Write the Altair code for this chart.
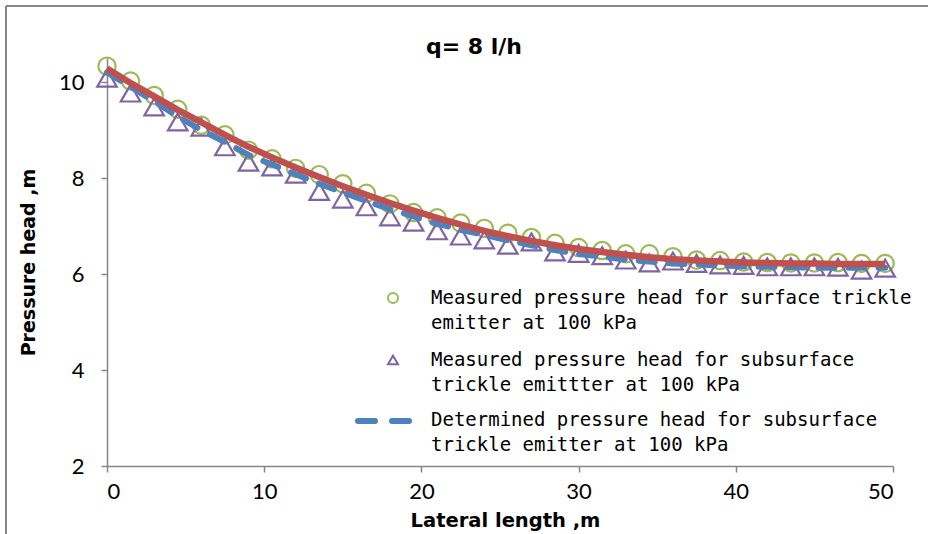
import altair as alt
import pandas as pd

# ---- data ----
lateral_m = [0, 1.5, 3, 4.5, 6, 7.5, 9, 10.5, 12, 13.5, 15, 16.5, 18, 19.5, 21, 22.5,
             24, 25.5, 27, 28.5, 30, 31.5, 33, 34.5, 36, 37.5, 39, 40.5, 42, 43.5,
             45, 46.5, 48, 49.5]
surface_measured = [10.33, 10.02, 9.72, 9.43, 9.10, 8.90, 8.58, 8.40, 8.20, 8.07, 7.88,
                    7.68, 7.46, 7.28, 7.17, 7.06, 6.95, 6.85, 6.76, 6.64, 6.55, 6.49,
                    6.42, 6.42, 6.36, 6.29, 6.28, 6.25, 6.24, 6.23, 6.23, 6.24, 6.22, 6.22]
subsurface_measured = [10.08, 9.77, 9.48, 9.17, 9.06, 8.65, 8.33, 8.23, 8.08, 7.72, 7.56,
                       7.40, 7.19, 7.08, 6.90, 6.79, 6.71, 6.60, 6.67, 6.46, 6.43, 6.38,
                       6.29, 6.23, 6.27, 6.22, 6.19, 6.18, 6.15, 6.15, 6.15, 6.14, 6.08, 6.12]
subsurface_determined = [10.20, 9.90, 9.60, 9.28, 9.00, 8.75, 8.48, 8.28, 8.08, 7.88, 7.70,
                         7.52, 7.35, 7.20, 7.05, 6.92, 6.82, 6.70, 6.60, 6.50, 6.42, 6.36,
                         6.30, 6.26, 6.22, 6.20, 6.18, 6.16, 6.15, 6.14, 6.13, 6.13, 6.13, 6.13]
surface_determined = [10.28, 9.98, 9.70, 9.42, 9.16, 8.90, 8.65, 8.43, 8.22, 8.02, 7.83,
                      7.65, 7.48, 7.32, 7.17, 7.03, 6.90, 6.79, 6.69, 6.60, 6.52, 6.46,
                      6.40, 6.35, 6.31, 6.28, 6.26, 6.24, 6.23, 6.22, 6.22, 6.21, 6.21, 6.21]

x_ticks = [0, 10, 20, 30, 40, 50]
y_ticks = [2, 4, 6, 8, 10]

title_text = "q= 8 l/h"
x_title = "Lateral length ,m"
y_title = "Pressure head ,m"
legend_lines = [
    ["Measured pressure head for surface trickle", "emitter at 100 kPa"],
    ["Measured pressure head for subsurface", "trickle emittter at 100 kPa"],
    ["Determined pressure head for subsurface", "trickle emitter at 100 kPa"],
]

GREEN = "#9BBB59"
PURPLE = "#8064A2"
BLUE = "#4F81BD"
RED = "#C0504D"
AXIS = "#868686"

W, H = 786, 408
PAD_L, PAD_T = 107, 58

df = pd.DataFrame({
    "x": lateral_m,
    "surf": surface_measured,
    "sub": subsurface_measured,
    "det": subsurface_determined,
    "red": surface_determined,
})

xs = alt.Scale(domain=[0, 50], nice=False)
ys = alt.Scale(domain=[2, 10.5], nice=False)

x_axis = alt.Axis(values=x_ticks, title=x_title, grid=False, domainColor=AXIS,
                  tickColor=AXIS, tickSize=6, labelFontSize=22, labelFont="Lato",
                  labelColor="#000000", labelPadding=9, titleFont="DejaVu Sans",
                  titleFontSize=19.5, titleFontWeight="bold", titleColor="#000000",
                  titleX=398, titleY=54, titleBaseline="middle", titleAlign="center",
                  domainWidth=1.5, tickWidth=1.5)
y_axis = alt.Axis(values=y_ticks, title=y_title, grid=False, domainColor=AXIS,
                  tickColor=AXIS, tickSize=6, labelFontSize=22, labelFont="Lato",
                  labelColor="#000000", labelPadding=17, titleFont="DejaVu Sans",
                  titleFontSize=19, titleFontWeight="bold", titleColor="#000000",
                  titleX=-79, titleY=204, titleBaseline="middle", titleAlign="center",
                  titleAngle=270, domainWidth=1.5, tickWidth=1.5)

base = alt.Chart(df)

circles = base.mark_point(shape="circle", filled=False, size=300, strokeWidth=2.2,
                          color=GREEN, opacity=1).encode(
    x=alt.X("x:Q", scale=xs, axis=x_axis),
    y=alt.Y("surf:Q", scale=ys, axis=y_axis),
)
triangles = base.mark_point(shape="triangle-up", filled=False, size=380, strokeWidth=2.2,
                            color=PURPLE, opacity=1).encode(
    x=alt.X("x:Q", scale=xs),
    y=alt.Y("sub:Q", scale=ys),
)
blue_line = base.mark_line(color=BLUE, strokeWidth=6, strokeDash=[16, 14],
                           strokeCap="round").encode(
    x=alt.X("x:Q", scale=xs),
    y=alt.Y("det:Q", scale=ys),
)
red_line = base.mark_line(color=RED, strokeWidth=6.5).encode(
    x=alt.X("x:Q", scale=xs),
    y=alt.Y("red:Q", scale=ys),
)

# ---- chart title as a text mark (pixel position inside the plot group) ----
title_mark = alt.Chart(pd.DataFrame({"px": [367], "py": [-11], "t": [title_text]})).mark_text(
    align="center", baseline="middle", font="DejaVu Sans", fontSize=22,
    fontWeight="bold", color="#000000").encode(
    x=alt.X("px:Q", scale=None), y=alt.Y("py:Q", scale=None), text="t:N")

# ---- manual legend (pixel positions inside the plot group) ----
leg_sym_x = 286
leg_text_x = 324
leg_rows_y = [240, 302, 363]
line_gap = 25

leg_text_df = pd.DataFrame({
    "px": [leg_text_x] * 6,
    "py": [leg_rows_y[0], leg_rows_y[0] + line_gap,
           leg_rows_y[1], leg_rows_y[1] + line_gap,
           leg_rows_y[2] - 1, leg_rows_y[2] - 1 + line_gap],
    "t": [legend_lines[0][0], legend_lines[0][1], legend_lines[1][0],
          legend_lines[1][1], legend_lines[2][0], legend_lines[2][1]],
})
leg_text = alt.Chart(leg_text_df).mark_text(align="left", baseline="middle",
                                            font="DejaVu Sans Mono", fontSize=19,
                                            color="#000000").encode(
    x=alt.X("px:Q", scale=None), y=alt.Y("py:Q", scale=None), text="t:N")

leg_c = alt.Chart(pd.DataFrame({"px": [leg_sym_x], "py": [leg_rows_y[0]]})).mark_point(
    shape="circle", filled=False, size=100, strokeWidth=2, color=GREEN, opacity=1).encode(
    x=alt.X("px:Q", scale=None), y=alt.Y("py:Q", scale=None))
leg_t = alt.Chart(pd.DataFrame({"px": [leg_sym_x], "py": [leg_rows_y[1]]})).mark_point(
    shape="triangle-up", filled=False, size=100, strokeWidth=2, color=PURPLE, opacity=1).encode(
    x=alt.X("px:Q", scale=None), y=alt.Y("py:Q", scale=None))
leg_l = alt.Chart(pd.DataFrame({"px": [251], "px2": [306], "py": [leg_rows_y[2]]})).mark_rule(
    color=BLUE, strokeWidth=6, strokeDash=[17, 17], strokeCap="round").encode(
    x=alt.X("px:Q", scale=None), x2="px2:Q", y=alt.Y("py:Q", scale=None))

# ---- frame lines (left and top edges of the outer chart border) ----
frame_left = alt.Chart(pd.DataFrame({"a": [0]})).mark_rule(color=AXIS, strokeWidth=2).encode(
    x=alt.value(6 - PAD_L), y=alt.value(6 - PAD_T), y2=alt.value(534 - PAD_T))
frame_top = alt.Chart(pd.DataFrame({"a": [0]})).mark_rule(color=AXIS, strokeWidth=2).encode(
    y=alt.value(6 - PAD_T), x=alt.value(6 - PAD_L), x2=alt.value(928 - PAD_L))

chart = alt.layer(
    circles, triangles, blue_line, red_line, title_mark, leg_text, leg_c, leg_t, leg_l,
    frame_left, frame_top,
).properties(
    width=W, height=H,
    autosize=alt.AutoSizeParams(type="none"),
    padding={"left": PAD_L, "top": PAD_T, "right": 928 - PAD_L - W, "bottom": 534 - PAD_T - H},
    background="white",
).configure_view(stroke=None)

chart.save("out.html", embed_options={"renderer": "svg", "actions": False})
